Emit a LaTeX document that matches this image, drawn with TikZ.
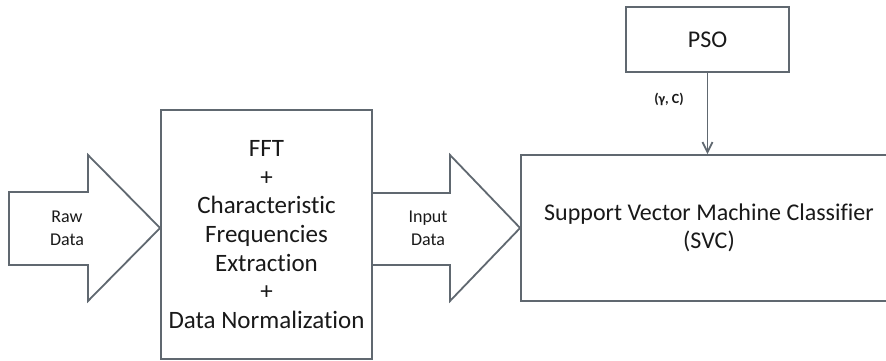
\documentclass[tikz,border=0pt]{standalone}
\usepackage{fontspec}
\setmainfont{Carlito}[Ligatures=NoCommon]
\usetikzlibrary{arrows.meta}
\definecolor{edgecol}{RGB}{96,104,112}
\definecolor{txtcol}{RGB}{25,25,25}
\begin{document}
\begin{tikzpicture}[x=1pt,y=-1pt,
  box/.style={draw=edgecol,line width=1.8pt,rectangle,inner sep=0pt,align=center,text=txtcol,font=\fontsize{25}{28.7}\selectfont},
  blockarrow/.style={draw=edgecol,line width=1.8pt,line join=miter},
  arrowlabel/.style={align=center,inner sep=0pt,text=txtcol,font=\fontsize{18}{23}\selectfont},
  paramlabel/.style={inner sep=0pt,text=txtcol,font=\bfseries\fontsize{14}{16}\selectfont},
  link/.style={draw=edgecol,line width=1.8pt,-{Straight Barb[length=10pt,width=10pt,line width=1.8pt]}}]
\useasboundingbox (0,0) rectangle (886,361);
\clip (0,0) rectangle (886,361);
\fill[white] (0,0) rectangle (886,361);
\node[box,minimum width=211pt,minimum height=249pt] (proc) at (266.5,234.5)
  {FFT\\+\\Characteristic\\Frequencies\\Extraction\\+\\Data Normalization};
\node[box,minimum width=376pt,minimum height=146pt,font=\fontsize{24}{28}\selectfont] (svc) at (709,228)
  {Support Vector Machine Classifier\\(SVC)};
\node[box,minimum width=163pt,minimum height=65pt,font=\fontsize{24}{28}\selectfont] (pso) at (707.5,39.5) {PSO};
\coordinate (rawtip) at (proc.west |- svc.west);
\draw[blockarrow] (9,192) -- (88,192) -- (88,155) -- (rawtip) -- (88,301) -- (88,265) -- (9,265) -- cycle;
\draw[blockarrow] (proc.east |- 0,193) -- (450,193) -- (450,155) -- (svc.west) -- (450,301) -- (450,265) -- (proc.east |- 0,265);
\node[arrowlabel] (rawlbl) at (67,228.5) {Raw\\Data};
\node[arrowlabel] (inlbl) at (428,228.5) {Input\\Data};
\draw[link] (pso) -- (pso |- svc.north);
\node[paramlabel] (gc) at (669,99) {(γ, C)};
\end{tikzpicture}
\end{document}
